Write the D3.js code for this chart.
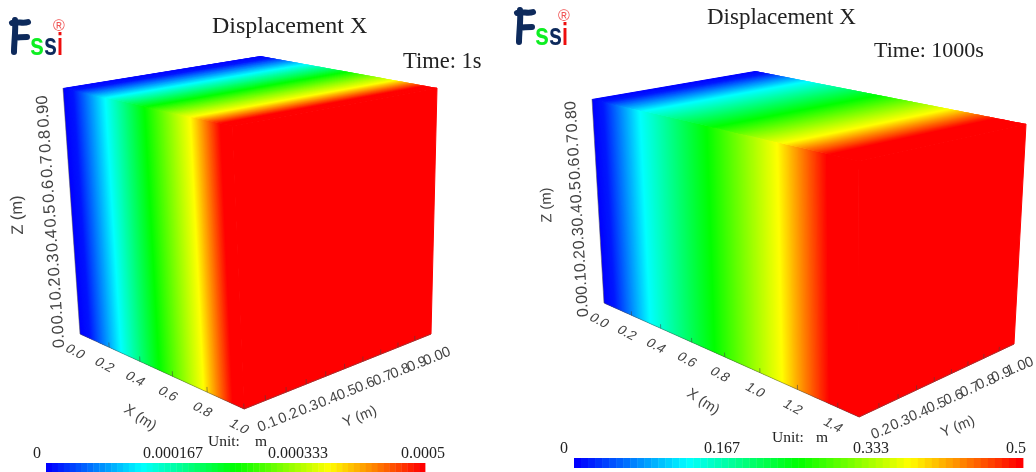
<!DOCTYPE html>
<html><head><meta charset="utf-8">
<script src="https://cdn.jsdelivr.net/npm/d3@7"></script>
<style>html,body{margin:0;padding:0;background:#fff}svg{display:block}</style></head>
<body><svg id="c" width="1036" height="472"></svg>
<script>
// ---- data ----
const stopValues = [0, 0.25, 0.5, 0.75, 1];
const stopColors = ["#0000ff", "#00ffff", "#00ff00", "#ffff00", "#ff0000"];
const leftProfileX = [0, 0.07, 0.28, 0.52, 0.78, 0.94, 1.0];
const leftProfileU = [0, 0.00001, 0.000125, 0.00025, 0.000375, 0.0005, 0.0005];
const rightProfileX = [0, 0.08, 0.33, 0.74, 1.12, 1.36, 1.5];
const rightProfileU = [0, 0.012, 0.125, 0.25, 0.375, 0.5, 0.5];
const leftXTicks = [0, 0.2, 0.4, 0.6, 0.8, 1.0];
const rightXTicks = [0, 0.2, 0.4, 0.6, 0.8, 1.0, 1.2, 1.4];
const leftYTicks = [0.1, 0.2, 0.3, 0.4, 0.5, 0.6, 0.7, 0.8, 0.9, 1.0];
const leftYLabels = ["0.1","0.2","0.3","0.4","0.5","0.6","0.7","0.8","0.9","0.00"];
const rightYTicks = [0.2, 0.3, 0.4, 0.5, 0.6, 0.7, 0.8, 0.9, 1.0];
const rightYLabels = ["0.2","0.3","0.4","0.5","0.6","0.7","0.8","0.9","1.00"];
const leftZTicks = [0, 0.1, 0.2, 0.3, 0.4, 0.5, 0.6, 0.7, 0.8, 0.9];
const leftZLabels = ["0.0","0.1","0.2","0.3","0.4","0.5","0.6","0.7","0.8","0.90"];
const rightZTicks = [0, 0.1, 0.2, 0.3, 0.4, 0.5, 0.6, 0.7, 0.8];
const rightZLabels = ["0.0","0.1","0.2","0.3","0.4","0.5","0.6","0.7","0.80"];
const leftBarLabels = ["0", "0.000167", "0.000333", "0.0005"];
const rightBarLabels = ["0", "0.167", "0.333", "0.5"];
const barLevels = 64;

// ---- layout ----
const panels = [
 { profX:leftProfileX, profU:leftProfileU, xDom:[0,1], yDom:[0,1], zDom:[0,1],
   xTicks:leftXTicks, yTicks:leftYTicks, yLabels:leftYLabels, zTicks:leftZTicks, zLabels:leftZLabels,
   A:[63,88],B:[260,56],C:[437,88],D:[232,126],E:[80,334],F:[244,409],G:[431,334],
   xTitle:[140,418], yTitle:[360,417], zTitle:[18,215], zFont:16.5, zTitleFont:16.5,
   bar:{x0:46,x1:425,y:463,h:10}, barLabels:leftBarLabels, barLabelX:[37,173,298,423], barBase:458,
   title:[212,33,24], time:["Time: 1s",403,68,22.5], unit:[208,446,255], logo:[0,0] },
 { profX:rightProfileX, profU:rightProfileU, xDom:[0,1.5], yDom:[0.1,1], zDom:[0,0.88],
   xTicks:rightXTicks, yTicks:rightYTicks, yLabels:rightYLabels, zTicks:rightZTicks, zLabels:rightZLabels,
   A:[592,99],B:[755,71],C:[1026,124],D:[858,161],E:[604,303],F:[859,417],G:[1014,344],
   xTitle:[703,402], yTitle:[958,427], zTitle:[547,205], zFont:16, zTitleFont:14.8,
   bar:{x0:574,x1:1023,y:458,h:10}, barLabels:rightBarLabels, barLabelX:[564,722,871,1016], barBase:453,
   title:[707,24,23], time:["Time: 1000s",874,57,22], unit:[772,442,816], logo:[505,-10] }
];
const svg = d3.select("#c");
const defs = svg.append("defs");
defs.append("filter").attr("id","soft").append("feGaussianBlur").attr("stdDeviation",0.35);

function quadMap(p00,p10,p11,p01){ // unit square -> quad homography
  const dx1=p10[0]-p11[0], dx2=p01[0]-p11[0], sx=p00[0]-p10[0]+p11[0]-p01[0];
  const dy1=p10[1]-p11[1], dy2=p01[1]-p11[1], sy=p00[1]-p10[1]+p11[1]-p01[1];
  const den=dx1*dy2-dx2*dy1;
  const g=(sx*dy2-dx2*sy)/den, h=(dx1*sy-sx*dy1)/den;
  const a=p10[0]-p00[0]+g*p10[0], b=p01[0]-p00[0]+h*p01[0], c=p00[0];
  const d=p10[1]-p00[1]+g*p10[1], e=p01[1]-p00[1]+h*p01[1], f=p00[1];
  return (u,v)=>{const w=g*u+h*v+1; return [(a*u+b*v+c)/w,(d*u+e*v+f)/w];};
}
const rainbow = d3.scaleLinear().domain(stopValues).range(stopColors).interpolate(d3.interpolateRgb).clamp(true);
const pts = a => a.map(p=>p[0].toFixed(2)+","+p[1].toFixed(2)).join(" ");
const serif = "'Liberation Serif','Times New Roman',serif";
const sans = "'Liberation Sans',Arial,sans-serif";

panels.forEach(p=>{
  const g = svg.append("g");
  const sx = d3.scaleLinear().domain(p.xDom).range([0,1]);
  const sy = d3.scaleLinear().domain(p.yDom).range([0,1]);
  const sz = d3.scaleLinear().domain(p.zDom).range([0,1]);
  const uMax = d3.max(p.profU);
  const value = d3.scaleLinear().domain(p.profX).range(p.profU);
  const colorAt = fx => rainbow(value(sx.invert(Math.min(1,fx)))/uMax);
  const front = quadMap(p.E,p.F,p.D,p.A);   // (x,z)
  const top = quadMap(p.A,p.D,p.C,p.B);     // (x,y)
  const N = 260, strips = d3.range(N);

  [front,top].forEach(m=>{
    // each strip runs one strip further and is painted over by the next, so no seams show
    g.append("g").selectAll("polygon").data(strips).join("polygon")
      .attr("points",i=>{const e=Math.min(N,i+3);return pts([m(i/N,0),m(e/N,0),m(e/N,1),m(i/N,1)]);})
      .attr("fill",i=>colorAt((i+.5)/N));
  });
  // right face (all at the maximum), painted last with a stroke to close the seam
  g.append("polygon").attr("points",pts([p.F,p.G,p.C,p.D])).attr("fill",colorAt(1)).attr("stroke",colorAt(1)).attr("stroke-width",1);

  // axis edges
  const edge = g.append("g").attr("stroke","#555").attr("stroke-width",0.7).attr("fill","none").attr("opacity",0.75);
  edge.append("path").attr("d",d3.line()([p.A,p.E,p.F,p.G]));

  // ticks
  const tick = g.append("g").attr("stroke","#444").attr("stroke-width",0.7).attr("opacity",0.8);
  p.xTicks.filter(t=>t>p.xDom[0]).forEach(t=>{
    const a=front(sx(t),0), b=front(sx(t),0.02);
    tick.append("line").attr("x1",a[0]).attr("y1",a[1]).attr("x2",b[0]).attr("y2",b[1]);
  });
  const rightFace = quadMap(p.F,p.G,p.C,p.D);
  p.yTicks.filter(t=>t<p.yDom[1]).forEach(t=>{
    const a=rightFace(sy(t),0), b=rightFace(sy(t),0.02);
    tick.append("line").attr("x1",a[0]).attr("y1",a[1]).attr("x2",b[0]).attr("y2",b[1]);
  });

  // tick labels
  const lab = g.append("g").attr("font-family",sans).attr("fill","#444").attr("filter","url(#soft)");
  lab.append("g").selectAll("text").data(p.xTicks).join("text")
    .attr("font-size",13.5).attr("text-anchor","middle").attr("dominant-baseline","middle")
    .attr("transform",t=>{const q=front(sx(t),0);return `translate(${q[0]-5},${q[1]+18}) rotate(28) skewX(-12)`;})
    .text(t=>t.toFixed(1));
  lab.append("g").selectAll("text").data(p.yTicks).join("text")
    .attr("font-size",14.5).attr("text-anchor","start").attr("dominant-baseline","middle")
    .attr("transform",t=>{const q=rightFace(sy(t),0);return `translate(${q[0]-7},${q[1]+28}) rotate(-22)`;})
    .text((t,i)=>p.yLabels[i]);
  lab.append("g").selectAll("text").data(p.zTicks).join("text")
    .attr("font-size",p.zFont).attr("text-anchor","start").attr("dominant-baseline","middle")
    .attr("transform",t=>{const q=front(0,sz(t));return `translate(${q[0]-20},${q[1]+14}) rotate(-94)`;})
    .text((t,i)=>p.zLabels[i]);

  // axis titles
  const at=(pos,rot,txt,fs)=>lab.append("text").attr("font-size",fs).attr("text-anchor","middle").attr("dominant-baseline","middle")
     .attr("transform",`translate(${pos[0]},${pos[1]}) rotate(${rot})`).text(txt);
  at(p.xTitle,33,"X (m)",14.5); at(p.yTitle,-22,"Y (m)",14.5); at(p.zTitle,-92,"Z (m)",p.zTitleFont);

  // colour bar
  const bx = d3.scaleBand().domain(d3.range(barLevels)).range([p.bar.x0,p.bar.x1]);
  g.append("g").selectAll("rect").data(d3.range(barLevels)).join("rect")
    .attr("x",d=>bx(d)).attr("y",p.bar.y).attr("width",bx.bandwidth()+0.4).attr("height",p.bar.h)
    .attr("fill",d=>rainbow(d/(barLevels-1)));
  const txt = g.append("g").attr("font-family",serif).attr("fill","#222");
  txt.selectAll("text.bl").data(p.barLabels).join("text").attr("class","bl")
    .attr("x",(d,i)=>p.barLabelX[i]).attr("y",p.barBase).attr("font-size",16).attr("text-anchor","middle").text(d=>d);
  txt.append("text").attr("x",p.title[0]).attr("y",p.title[1]).attr("font-size",p.title[2]).text("Displacement X");
  txt.append("text").attr("x",p.time[1]).attr("y",p.time[2]).attr("font-size",p.time[3]).text(p.time[0]);
  txt.append("text").attr("x",p.unit[0]).attr("y",p.unit[1]).attr("font-size",15.5).text("Unit:");
  txt.append("text").attr("x",p.unit[2]).attr("y",p.unit[1]).attr("font-size",15.5).text("m");

  // logo
  const lg = g.append("g").attr("transform",`translate(${p.logo[0]},${p.logo[1]})`).attr("filter","url(#soft)");
  lg.append("path").attr("d","M12,23 C17,21 23,24 28,22 M15,20 C16,30 14,42 14,52 M15,38 C19,37 23,37 27,37")
    .attr("fill","none").attr("stroke","#0d2a5c").attr("stroke-width",6).attr("stroke-linecap","round");
  const letter=(x,c,t,w)=>lg.append("text").attr("x",x).attr("y",55).attr("font-family",sans).attr("font-weight","bold")
     .attr("font-size",32).attr("fill",c).attr("textLength",w).attr("lengthAdjust","spacingAndGlyphs").text(t);
  letter(30,"#11ee22","s",14); letter(44,"#0d2a5c","s",13); letter(57,"#ee1111","i",6);
  lg.append("text").attr("x",59).attr("y",31).attr("text-anchor","middle").attr("font-family",sans).attr("font-size",16).attr("fill","#f05555").text("®");
});
</script></body></html>
